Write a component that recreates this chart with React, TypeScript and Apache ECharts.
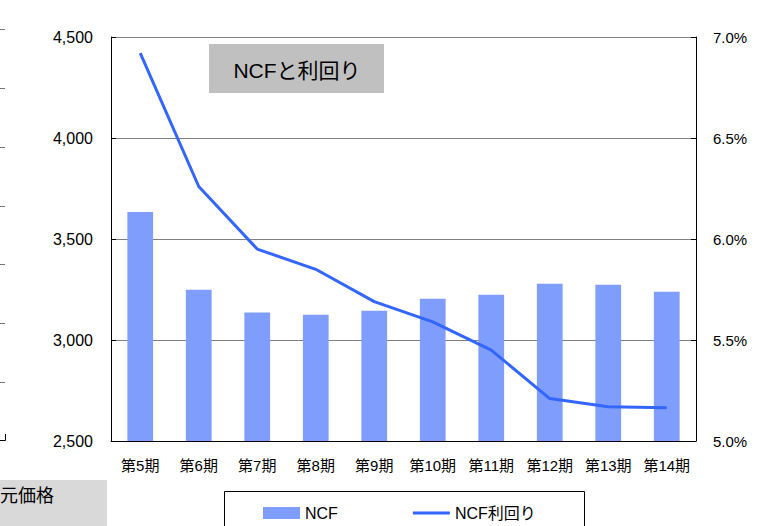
import React, { useEffect, useRef } from "react";
import * as echarts from "echarts";

const categories = ["第5期", "第6期", "第7期", "第8期", "第9期", "第10期", "第11期", "第12期", "第13期", "第14期"];
const ncfValues = [3634, 3249, 3136, 3125, 3145, 3204, 3224, 3278, 3273, 3239];
const yieldValues = [6.92, 6.26, 5.95, 5.85, 5.69, 5.59, 5.45, 5.21, 5.17, 5.165];
const leftTicks = [2500, 3000, 3500, 4000, 4500];
const rightTicks = [5.0, 5.5, 6.0, 6.5, 7.0];

const FONT = '"Liberation Sans", Arial, "Noto Sans CJK JP", sans-serif';

export default function App() {
  const ref = useRef<HTMLDivElement>(null);
  useEffect(() => {
    if (!ref.current) return;
    const chart = echarts.init(ref.current, undefined, { renderer: "svg" });
    const fragTickYs = [29, 88, 147, 206, 264, 323, 382];
    const graphics: any[] = [
      { type: "rect", z: 0, shape: { x: 209, y: 44, width: 175, height: 49 }, style: { fill: "#c0c0c0" } },
      { type: "text", z: 1, x: 297, y: 70, style: { text: "NCFと利回り", font: `21px ${FONT}`, fill: "#000", align: "center", verticalAlign: "middle" } },
      { type: "rect", z: 0, shape: { x: 224.5, y: 491.5, width: 360, height: 60 }, style: { fill: "#fff", stroke: "#000", lineWidth: 1 } },
      { type: "rect", z: 0, shape: { x: 0, y: 480, width: 107, height: 46 }, style: { fill: "#d9d9d9" } },
      { type: "text", z: 1, x: 0, y: 496, style: { text: "元価格", font: `18px ${FONT}`, fill: "#000", align: "left", verticalAlign: "middle" } },
      { type: "polyline", z: 1, shape: { points: [[0, 440.5], [5.5, 440.5], [5.5, 434]] }, style: { stroke: "#000", lineWidth: 1, fill: null } },
    ];
    fragTickYs.forEach((y) => {
      graphics.push({ type: "line", z: 1, shape: { x1: 0, y1: y + 0.5, x2: 5, y2: y + 0.5 }, style: { stroke: "#777", lineWidth: 1 } });
    });
    chart.setOption({
      animation: false,
      backgroundColor: "#fff",
      textStyle: { fontFamily: FONT },
      grid: { left: 111, right: 72, top: 37, bottom: 85, containLabel: false },
      legend: {
        left: 258,
        top: 500,
        itemWidth: 37,
        itemHeight: 12,
        itemGap: 75,
        textStyle: { fontSize: 16, color: "#000", fontFamily: FONT },
        data: [
          { name: "NCF", icon: "rect" },
          { name: "NCF利回り", icon: "path://M0 0H100V8H0Z" },
        ],
      },
      xAxis: {
        type: "category",
        data: categories,
        axisLine: { lineStyle: { color: "#000", width: 1 } },
        axisTick: { inside: true, length: 4, lineStyle: { color: "#000" } },
        axisLabel: { color: "#000", fontSize: 15, margin: 17, interval: 0, fontFamily: FONT },
      },
      yAxis: [
        {
          type: "value",
          min: leftTicks[0],
          max: leftTicks[leftTicks.length - 1],
          interval: 500,
          axisLine: { show: true, lineStyle: { color: "#000", width: 1 } },
          axisTick: { show: true, inside: true, length: 5, lineStyle: { color: "#000" } },
          splitLine: { show: true, lineStyle: { color: "#808080", width: 1 } },
          axisLabel: {
            color: "#000",
            fontSize: 16,
            margin: 18,
            fontFamily: FONT,
            formatter: (v: number) => v.toLocaleString("en-US"),
          },
        },
        {
          type: "value",
          min: rightTicks[0],
          max: rightTicks[rightTicks.length - 1],
          interval: 0.5,
          position: "right",
          axisLine: { show: true, lineStyle: { color: "#000", width: 1 } },
          axisTick: { show: true, inside: true, length: 5, lineStyle: { color: "#000" } },
          splitLine: { show: false },
          axisLabel: {
            color: "#000",
            fontSize: 15,
            margin: 17,
            fontFamily: FONT,
            formatter: (v: number) => v.toFixed(1) + "%",
          },
        },
      ],
      series: [
        {
          name: "NCF",
          type: "bar",
          yAxisIndex: 0,
          data: ncfValues,
          barWidth: "44%",
          itemStyle: { color: "#7f9dfc" },
        },
        {
          name: "NCF利回り",
          type: "line",
          yAxisIndex: 1,
          data: yieldValues,
          symbol: "none",
          lineStyle: { color: "#3366ff", width: 3 },
          itemStyle: { color: "#3366ff" },
          z: 3,
        },
      ],
      graphic: graphics,
    });
    return () => chart.dispose();
  }, []);
  return <div ref={ref} style={{ position: "fixed", left: 0, top: 0, width: 768, height: 526 }} />;
}
